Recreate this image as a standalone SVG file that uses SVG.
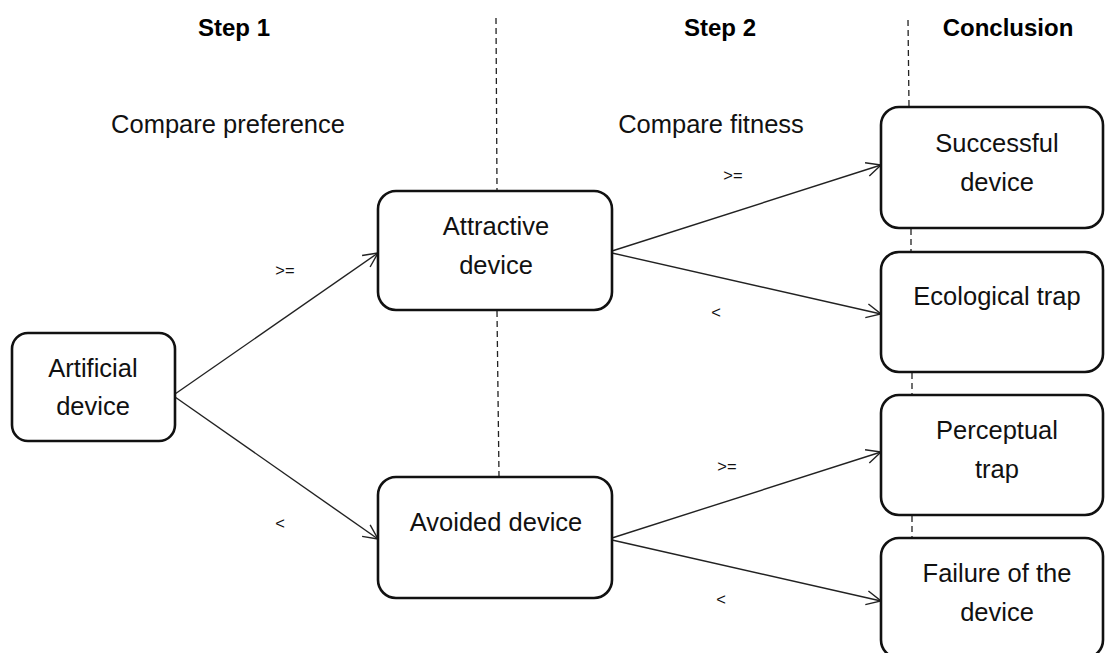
<svg xmlns="http://www.w3.org/2000/svg" width="1105" height="653" viewBox="0 0 1105 653">
<defs>
<marker id="arr" markerUnits="userSpaceOnUse" viewBox="0 0 16 16" refX="15.5" refY="8" markerWidth="16" markerHeight="16" orient="auto">
<path d="M1,1 L15.5,8 L1,15" fill="none" stroke="#222" stroke-width="1.4"/>
</marker>
<style>
.box{fill:#fff;stroke:#111;stroke-width:2.6}
.t{font-family:"Liberation Sans",Arial,sans-serif;font-size:25.5px;fill:#111;text-anchor:middle}
.h{font-family:"Liberation Sans",Arial,sans-serif;font-size:24px;font-weight:bold;fill:#000;text-anchor:middle}
.lb{font-family:"Liberation Sans",Arial,sans-serif;font-size:16.5px;fill:#111;text-anchor:middle}
.dash{stroke:#222;stroke-width:1.3;stroke-dasharray:6,4;fill:none}
.c{stroke:#222;stroke-width:1.4;fill:none;marker-end:url(#arr)}
</style>
</defs>
<rect width="1105" height="653" fill="#fff"/>
<g id="dividers">
<line class="dash" x1="496" y1="18" x2="497" y2="190"/>
<line class="dash" x1="497" y1="311" x2="499" y2="476"/>
<line class="dash" x1="908" y1="20" x2="909" y2="106"/>
<line class="dash" x1="911" y1="229" x2="911" y2="251"/>
<line class="dash" x1="912" y1="373" x2="912" y2="394"/>
<line class="dash" x1="912" y1="516" x2="912" y2="537"/>
</g>
<g id="headers">
<text class="h" x="234" y="36">Step 1</text>
<text class="h" x="720" y="36">Step 2</text>
<text class="h" x="1008" y="36">Conclusion</text>
<text class="t" x="228" y="133">Compare preference</text>
<text class="t" x="711" y="133">Compare fitness</text>
</g>
<g id="connectors">
<line class="c" x1="175" y1="394" x2="378" y2="253"/>
<line class="c" x1="175" y1="397" x2="378" y2="539"/>
<line class="c" x1="612" y1="251" x2="881" y2="165"/>
<line class="c" x1="612" y1="253" x2="881" y2="314"/>
<line class="c" x1="612" y1="538" x2="881" y2="452"/>
<line class="c" x1="612" y1="540" x2="881" y2="601"/>
<text class="lb" x="285" y="276">&gt;=</text>
<text class="lb" x="280" y="529">&lt;</text>
<text class="lb" x="733" y="181">&gt;=</text>
<text class="lb" x="716" y="318">&lt;</text>
<text class="lb" x="727" y="472">&gt;=</text>
<text class="lb" x="721" y="605">&lt;</text>
</g>
<g id="artificial">
<rect class="box" x="12" y="333" width="163" height="108" rx="16"/>
<text class="t" x="93" y="377">Artificial</text>
<text class="t" x="93" y="415">device</text>
</g>
<g id="attractive">
<rect class="box" x="378" y="191" width="234" height="119" rx="18"/>
<text class="t" x="496" y="235">Attractive</text>
<text class="t" x="496" y="274">device</text>
</g>
<g id="avoided">
<rect class="box" x="378" y="477" width="234" height="121" rx="18"/>
<text class="t" x="496" y="531">Avoided device</text>
</g>
<g id="successful">
<rect class="box" x="881" y="107" width="222" height="121" rx="18"/>
<text class="t" x="997" y="152">Successful</text>
<text class="t" x="997" y="191">device</text>
</g>
<g id="ecological">
<rect class="box" x="881" y="252" width="222" height="120" rx="18"/>
<text class="t" x="997" y="305">Ecological trap</text>
</g>
<g id="perceptual">
<rect class="box" x="881" y="395" width="222" height="120" rx="18"/>
<text class="t" x="997" y="439">Perceptual</text>
<text class="t" x="997" y="478">trap</text>
</g>
<g id="failure">
<rect class="box" x="881" y="538" width="222" height="120" rx="18"/>
<text class="t" x="997" y="582">Failure of the</text>
<text class="t" x="997" y="621">device</text>
</g>
</svg>
